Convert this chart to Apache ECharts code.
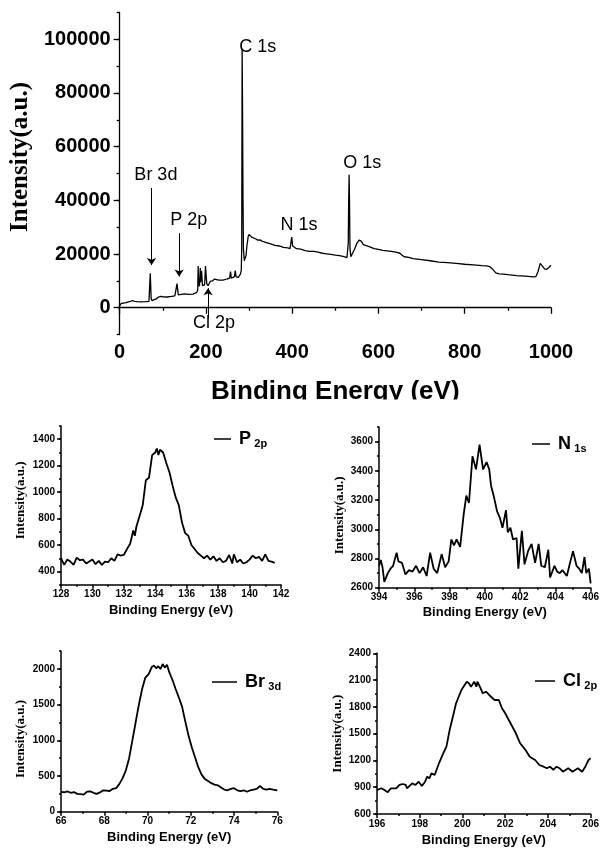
<!DOCTYPE html>
<html>
<head>
<meta charset="utf-8">
<script src="https://cdn.jsdelivr.net/npm/echarts@6/dist/echarts.min.js"></script>
<style>html,body{margin:0;background:#fff}</style>
</head>
<body>
<div id="main" style="width:602px;height:848px"></div>
<script>
// survey spectrum (binding energy in eV, intensity in a.u.)
const surveyEnergy = [0,3,8,15,20,25,30,35,40,50,60,68,70,71,72,73,75,80,85,90,95,100,110,120,128,131,133,134,136,140,150,160,170,178,181,182,183,185,187,188,190,192,194,197,199,200,202,205,210,215,220,230,240,250,255,257,259,263,266,268,270,275,278,280,282,283,284,285,286,287,289,291,293,295,298,300,303,306,310,315,320,325,330,340,350,360,370,380,390,395,397,399,401,405,410,420,430,440,450,460,470,480,490,500,510,520,527,529,530,531,532,533,534,536,540,545,550,555,560,565,570,580,590,600,610,620,630,640,650,655,660,670,680,690,700,720,740,760,780,800,820,840,850,858,865,872,880,890,900,920,940,960,965,970,975,980,985,990,995,1000];
const surveyCounts = [600,1500,1700,1900,2200,2400,2700,2400,2300,2200,2300,2400,2800,12800,13000,3500,2600,3000,3300,4000,4200,4100,4000,4200,4400,4800,9000,8800,4800,4900,5200,5000,5100,5600,6500,15500,9000,8000,14800,9500,13800,8200,7600,8500,15500,15000,9000,8200,9800,10000,10700,10300,10300,10800,11000,13500,11000,11000,11600,13800,11500,11300,12000,12500,14000,22000,96500,72000,40000,22000,17500,18000,19500,23000,26500,27300,27000,26300,26000,25700,25200,25300,24800,24300,23800,23200,23000,22500,22300,22000,22400,26300,23000,22300,22000,21800,21300,21000,21000,20700,20300,20100,19900,19600,19400,19000,18700,18800,24000,40000,49500,38000,22000,19000,19500,22000,24000,25200,24800,23500,23200,22700,22000,21700,21400,21200,21000,20700,20300,19500,19000,18800,18300,18100,17900,17500,17000,16800,16500,16200,16000,15700,15600,15300,14300,13000,12600,12500,12300,12000,11800,11500,11600,13500,16500,15500,14500,14300,15000,15800];

// peak labels and arrows on the survey
const peakLabels = ['C 1s', 'O 1s', 'N 1s', 'Br 3d', 'P 2p', 'Cl 2p'];
const peakLabelAt = [[276, 97000], [517, 53800], [372, 30800], [33, 49500], [116, 32500], [169, -5800]];
const arrows = [[[74, 44600], [74, 15900]], [[138, 27800], [138, 11600]], [[205, -3900], [205, 7300]]];

// P 2p
const pEnergy = [128.0,128.2,128.4,128.6,128.8,129.0,129.2,129.4,129.6,129.8,130.0,130.2,130.4,130.6,130.8,131.0,131.2,131.4,131.6,131.8,132.0,132.2,132.4,132.6,132.7,132.8,133.0,133.2,133.4,133.6,133.8,134.0,134.1,134.2,134.3,134.5,134.7,134.9,135.1,135.3,135.5,135.7,135.9,136.1,136.3,136.5,136.7,136.9,137.1,137.3,137.5,137.7,137.9,138.1,138.3,138.5,138.7,138.9,139.0,139.2,139.4,139.6,139.8,140.0,140.2,140.4,140.6,140.8,141.0,141.2,141.4,141.6];
const pCounts = [500,450,490,475,450,505,485,490,460,475,490,455,480,450,475,470,500,480,530,520,525,570,610,710,670,740,820,900,1090,1110,1280,1300,1330,1280,1320,1300,1220,1150,1050,960,900,770,690,670,600,570,540,520,500,520,490,515,480,500,470,480,525,460,530,470,490,460,470,490,520,500,510,480,530,480,475,465];

// N 1s
const nEnergy = [394.0,394.1,394.2,394.3,394.5,394.65,394.8,395.0,395.1,395.3,395.5,395.7,395.9,396.1,396.3,396.5,396.7,396.9,397.1,397.3,397.55,397.75,397.95,398.1,398.25,398.4,398.6,398.8,398.95,399.1,399.3,399.5,399.7,399.9,400.1,400.25,400.35,400.5,400.7,400.85,401.0,401.2,401.3,401.45,401.6,401.8,401.9,402.1,402.25,402.45,402.65,402.85,403.05,403.2,403.4,403.6,403.7,403.95,404.1,404.25,404.4,404.65,404.85,405.0,405.2,405.35,405.5,405.65,405.75,405.9,406.0];
const nCounts = [2750,2790,2740,2640,2700,2730,2750,2840,2780,2770,2690,2720,2710,2750,2700,2740,2680,2840,2730,2700,2830,2740,2780,2930,2890,2930,2880,3100,3230,3180,3500,3410,3580,3410,3460,3410,3300,3230,3120,3080,3010,3130,2980,3010,2930,2940,2730,2990,2760,2850,2900,2770,2900,2750,2740,2860,2670,2750,2710,2700,2720,2680,2780,2850,2750,2730,2700,2810,2700,2730,2630];

// Br 3d
const brEnergy = [66.0,66.15,66.3,66.45,66.6,66.75,66.9,67.05,67.2,67.35,67.5,67.65,67.8,67.95,68.1,68.25,68.4,68.55,68.7,68.85,69.0,69.15,69.3,69.45,69.6,69.75,69.9,70.05,70.2,70.3,70.4,70.5,70.6,70.7,70.8,70.9,71.0,71.15,71.3,71.45,71.6,71.75,71.9,72.05,72.2,72.35,72.5,72.65,72.8,72.95,73.1,73.25,73.4,73.55,73.7,73.85,74.0,74.15,74.3,74.45,74.6,74.75,74.9,75.05,75.2,75.35,75.5,75.65,75.8,76.0];
const brCounts = [280,270,285,265,275,250,245,240,280,285,265,250,270,300,295,290,320,330,390,470,580,750,1000,1250,1500,1720,1880,1930,2030,2050,2010,2040,2000,2070,2020,2060,1960,1850,1720,1600,1470,1260,1060,900,760,620,520,460,430,400,380,370,340,310,300,320,330,300,290,300,280,300,310,320,360,320,310,320,310,300];

// Cl 2p
const clEnergy = [196.0,196.2,196.35,196.5,196.65,196.9,197.05,197.2,197.35,197.4,197.65,197.8,197.95,198.1,198.25,198.35,198.45,198.55,198.7,198.9,199.1,199.25,199.4,199.55,199.7,199.95,200.2,200.3,200.4,200.55,200.65,200.7,200.85,200.95,201.1,201.25,201.5,201.7,201.85,202.0,202.25,202.5,202.7,202.95,203.15,203.4,203.6,203.8,203.95,204.1,204.25,204.4,204.55,204.7,204.95,205.15,205.4,205.6,205.75,205.9,206.0];
const clCounts = [869,888,869,843,888,888,925,936,925,888,943,925,962,914,962,1018,1000,1055,1037,1168,1280,1354,1541,1690,1840,1989,2082,2064,2026,2082,2026,2082,2008,1952,1970,1933,1877,1877,1784,1728,1616,1504,1392,1317,1242,1205,1149,1130,1112,1130,1093,1130,1112,1074,1112,1074,1112,1074,1130,1205,1224];

const sans = 'Liberation Sans', serif = 'Liberation Serif';
const pairs = (xs, ys) => xs.map((x, i) => [x, ys[i]]);

function majors(min, max, step) {
  const out = [];
  for (let v = Math.ceil(min / step) * step; v <= max; v += step) out.push(v);
  return out;
}

// panels: grid box, axis ranges, fonts
const panels = [
  { grid: { left: 117, top: 12.4, width: 434, height: 322.2 }, xr: [0, 1000, 200], yr: [-10000, 110000, 10000, 20000],
    tickFont: 20, nameFont: 26, yNameFont: 25, xGap: 44, yGap: 78, yPad: [0, 0, 0, 33], lab: 9, tl: [6, 3], lw: 1.3 },
  { grid: { left: 61, top: 426, width: 220, height: 158.7 }, xr: [128, 142, 2], yr: [300, 1500, 100, 200],
    tickFont: 10, nameFont: 13, yNameFont: 13, xGap: 19, yGap: 34, yPad: [0, 0, 0, 10], lab: 6, tl: [4, 2], lw: 1.5 },
  { grid: { left: 379, top: 427, width: 216, height: 160.7 }, xr: [394, 406, 2], yr: [2600, 3700, 100, 200],
    tickFont: 10, nameFont: 13, yNameFont: 13, xGap: 18, yGap: 33, yPad: [0, 16, 0, 0], lab: 6, tl: [4, 2], lw: 1.5 },
  { grid: { left: 61, top: 651.2, width: 216.3, height: 160.5 }, xr: [66, 76, 2], yr: [0, 2250, 250, 500],
    tickFont: 10, nameFont: 13, yNameFont: 13, xGap: 19, yGap: 34, yPad: [0, 15, 0, 0], lab: 6, tl: [4, 2], lw: 1.5 },
  { grid: { left: 377, top: 653.3, width: 218, height: 160.7 }, xr: [196, 206, 2], yr: [600, 2400, 150, 300],
    tickFont: 10, nameFont: 13, yNameFont: 13, xGap: 20, yGap: 33, yPad: [0, 0, 0, 0], lab: 6, tl: [4, 2], lw: 1.5 }
];

const xAxis = [], yAxis = [];
panels.forEach((p, i) => {
  const line = { show: true, lineStyle: { color: '#000', width: p.lw } };
  xAxis.push({
    type: 'value', gridIndex: i, min: p.xr[0], max: p.xr[1], interval: p.xr[2],
    axisLine: line,
    axisTick: { show: true, length: p.tl[0], lineStyle: { color: '#000', width: p.lw } },
    minorTick: { show: true, splitNumber: 2, length: p.tl[1], lineStyle: { color: '#000', width: p.lw } },
    splitLine: { show: false },
    axisLabel: { color: '#000', fontFamily: sans, fontWeight: 'bold', fontSize: p.tickFont, margin: p.lab - 1,
      formatter: v => String(v) },
    name: 'Binding Energy (eV)', nameLocation: 'middle', nameGap: p.xGap,
    nameTextStyle: { color: '#000', fontFamily: sans, fontWeight: 'bold', fontSize: p.nameFont }
  });
  const [ymin, ymax, minor, major] = p.yr;
  yAxis.push({
    type: 'value', gridIndex: i, min: ymin, max: ymax, interval: minor,
    axisLine: line,
    axisTick: { show: true, length: p.tl[1], lineStyle: { color: '#000', width: p.lw } },
    splitLine: { show: false },
    axisLabel: { color: '#000', fontFamily: sans, fontWeight: 'bold', fontSize: p.tickFont, margin: p.lab,
      formatter: v => (v % major === 0 ? String(v) : '') },
    name: 'Intensity(a.u.)', nameLocation: 'middle', nameGap: p.yGap,
    nameTextStyle: { color: '#000', fontFamily: serif, fontWeight: 'bold', fontSize: p.yNameFont, padding: p.yPad }
  });
});
// overlay axes that only carry the longer major ticks
panels.forEach((p, i) => {
  const [ymin, ymax, minor, major] = p.yr;
  yAxis.push({
    type: 'value', gridIndex: i, min: ymin, max: ymax, interval: minor, position: 'left',
    axisLine: { show: false }, splitLine: { show: false }, axisLabel: { show: false },
    axisTick: { show: true, length: p.tl[0], customValues: majors(ymin, ymax, major),
      lineStyle: { color: '#000', width: p.lw } }
  });
});

const subs = [
  { name: 'P 2p', x: pEnergy, y: pCounts, a: 'P', b: '2p', left: 214, top: 430, w: 17 },
  { name: 'N 1s', x: nEnergy, y: nCounts, a: 'N', b: '1s', left: 532, top: 435, w: 18 },
  { name: 'Br 3d', x: brEnergy, y: brCounts, a: 'Br', b: '3d', left: 212, top: 673, w: 25 },
  { name: 'Cl 2p', x: clEnergy, y: clCounts, a: 'Cl', b: '2p', left: 535, top: 672, w: 20 }
];

const series = [{
  name: 'survey', type: 'line', xAxisIndex: 0, yAxisIndex: 0,
  data: pairs(surveyEnergy, surveyCounts), showSymbol: false, symbol: 'none',
  lineStyle: { color: '#000', width: 1.3 },
  markPoint: {
    symbol: 'rect', symbolSize: 1, itemStyle: { color: 'transparent' },
    label: { show: true, position: 'right', distance: 0, color: '#000', fontFamily: sans, fontSize: 18, formatter: '{b}' },
    data: peakLabels.map((t, i) => ({ name: t, coord: peakLabelAt[i] }))
  },
  markLine: {
    silent: true, symbol: ['none', 'arrow'], symbolSize: 7, label: { show: false },
    lineStyle: { color: '#000', width: 1, type: 'solid' },
    data: arrows.map(a => [{ coord: a[0] }, { coord: a[1] }])
  }
}];
subs.forEach((s, i) => series.push({
  name: s.name, type: 'line', xAxisIndex: i + 1, yAxisIndex: i + 1,
  data: pairs(s.x, s.y), showSymbol: false, symbol: 'none',
  lineStyle: { color: '#000', width: 1.8 }, itemStyle: { color: '#000' }
}));

const legend = subs.map(s => ({
  data: [s.name], left: s.left, top: s.top, padding: 0, icon: 'rect',
  itemWidth: s.w, itemHeight: 1.5, selectedMode: false,
  formatter: () => '{a|' + s.a + '} {b|' + s.b + '}',
  textStyle: { rich: {
    a: { fontFamily: sans, fontWeight: 'bold', fontSize: 18, color: '#000', lineHeight: 20, padding: [0, 0, 0, 3] },
    b: { fontFamily: sans, fontWeight: 'bold', fontSize: 11, color: '#000', lineHeight: 20, verticalAlign: 'bottom', padding: [5, 0, 0, 0] }
  } }
}));

const chart = echarts.init(document.getElementById('main'));
chart.setOption({
  animation: false,
  backgroundColor: '#fff',
  grid: panels.map(p => Object.assign({ containLabel: false }, p.grid)),
  xAxis, yAxis, series, legend,
  graphic: [{ type: 'rect', shape: { x: 180, y: 399.5, width: 320, height: 12 }, style: { fill: '#fff' }, z: 100 }]
});
</script>
</body>
</html>
